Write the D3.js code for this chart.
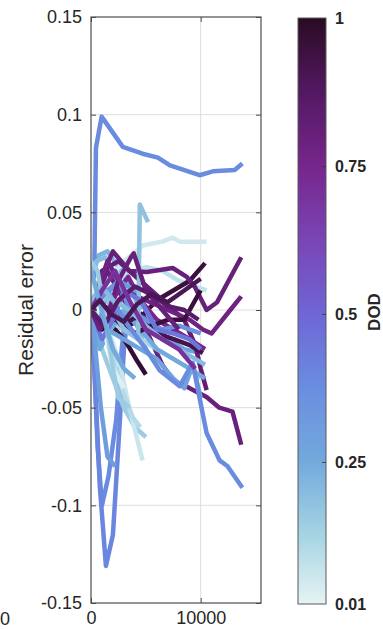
<!DOCTYPE html>
<html>
<head>
<meta charset="utf-8">
<script src="https://cdn.jsdelivr.net/npm/d3@7"></script>
<style>
  body { margin: 0; background: #fff; }
  svg { display: block; font-family: "Liberation Sans", Arial, sans-serif; }
</style>
</head>
<body>
<svg id="chart" width="383" height="629"></svg>
<script>
// Axis ticks
const yTicks = [-0.15, -0.1, -0.05, 0, 0.05, 0.1, 0.15];
const yTickLabels = ["-0.15", "-0.1", "-0.05", "0", "0.05", "0.1", "0.15"];
const xTicks = [0, 10000];
const xTickLabels = ["0", "10000"];
const cbTicks = [0.01, 0.25, 0.5, 0.75, 1];
const cbTickLabels = ["0.01", "0.25", "0.5", "0.75", "1"];

// Colormap for depth of discharge
const cmapPos = [0.01, 0.12, 0.25, 0.38, 0.5, 0.62, 0.75, 0.88, 1];
const cmapColors = ["#e6f3f3", "#a9d6e4", "#72aadc", "#6a8ce0", "#6f66d6", "#7a46b6", "#76268c", "#521860", "#2a0b22"];

// One entry per test cell: DOD, cycle positions, residual errors
const dod = [0.22, 0.05, 0.38, 0.2, 0.08, 0.8, 0.95, 0.38, 0.4, 0.15, 0.75, 0.3,
             0.97, 0.12, 0.8, 0.06, 0.28, 0.82, 0.1, 0.25, 0.92, 0.78, 0.02, 0.35,
             0.95, 0.18, 0.45, 0.3, 0.8, 0.15, 0.38, 0.2, 0.85, 0.7, 0.25, 0.9];
const cycles = [
  [0, 700, 1500, 2500, 3500, 4500],
  [0, 1500, 3000, 4730, 6500, 7450, 8100, 10540],
  [0, 300, 450, 970, 2900, 4700, 6100, 7200, 9900, 11100, 13100, 13800],
  [0, 500, 1300, 2000, 3000, 4000, 5000],
  [0, 1500, 3000, 5000, 6500, 8000, 9500, 10540],
  [0, 1500, 3000, 5000, 6500, 7450, 9000, 10540, 11700, 12900, 13700],
  [0, 1500, 3000, 4500, 6000, 7500, 9000, 10400],
  [0, 300, 600, 1000, 1600, 2300, 2800, 3300],
  [0, 400, 800, 1360, 2000, 2640, 3000, 3400],
  [0, 1000, 2000, 3000, 4000, 5000],
  [0, 700, 1500, 2500, 3400, 4500, 6000, 7500, 9000, 10400],
  [0, 1000, 2500, 4000, 5500, 7000, 8500, 10000],
  [0, 500, 1000, 1500, 2200, 3000, 3360, 4200, 5000],
  [0, 1500, 3000, 4500, 6000, 7500, 9000, 10000],
  [0, 800, 2000, 3500, 5090, 7450, 8730, 9450, 10540, 11500, 13700],
  [0, 1000, 2600, 3500, 4700],
  [0, 1500, 3000, 4500, 6000, 7500, 8500, 9300, 10000],
  [0, 1000, 2500, 4500, 6500, 8500, 9500, 10000, 10540],
  [0, 800, 1800, 2800, 3800, 4500],
  [0, 800, 1800, 3000, 4500, 6000, 7500, 9000, 10400],
  [0, 1200, 2800, 4600, 6000, 7600, 9000, 10200],
  [0, 1500, 3000, 5000, 7000, 9000, 10200, 11000, 12700, 13700],
  [0, 500, 1200, 2000, 3000],
  [0, 600, 1500, 2600, 3500, 5000, 6500, 8000, 10000],
  [0, 1000, 2500, 4000, 5500, 7000, 8500, 10000],
  [0, 1000, 2000, 3000, 4300, 4450, 5200],
  [0, 1000, 2000, 3000, 4500, 6000, 7500, 9000, 10000],
  [0, 400, 900, 1500, 2200],
  [0, 800, 1550, 2500, 3640, 3900, 5000, 6500, 8000],
  [0, 600, 1200, 2000, 2500, 3500],
  [0, 1500, 3000, 5000, 6270, 8090, 9270, 10180, 10540, 11730, 12450, 13800],
  [0, 1000, 2000, 3500, 5000, 6500, 8000, 9500, 10400],
  [0, 1200, 2500, 4000, 5500, 7000, 8500, 9800],
  [0, 1000, 2200, 3500, 5000, 6500, 8000, 9500],
  [0, 500, 1200, 2000, 3000, 4000],
  [0, 800, 1800, 3000, 4200, 5500, 7000, 8500, 10000]
];
const resid = [
  [0.015, 0.028, 0.03, 0.022, 0.012, 0],
  [0, 0.015, 0.025, 0.033, 0.035, 0.037, 0.035, 0.035],
  [0, 0.02, 0.083, 0.099, 0.0835, 0.080, 0.078, 0.074, 0.069, 0.071, 0.0717, 0.075],
  [0.02, 0.025, 0.027, 0.02, 0.01, -0.005, -0.02],
  [0, 0.01, 0.018, 0.022, 0.02, 0.015, 0.012, 0.01],
  [0, 0.02, 0.005, -0.01, -0.028, -0.036, -0.04, -0.0445, -0.05, -0.052, -0.069],
  [0, -0.005, -0.01, -0.004, 0.005, 0.01, 0.015, 0.024],
  [0.01, -0.03, -0.07, -0.10, -0.085, -0.056, -0.02, 0.005],
  [0.005, -0.04, -0.09, -0.131, -0.115, -0.056, -0.02, 0],
  [0, -0.02, -0.035, -0.05, -0.06, -0.065],
  [0, -0.01, 0, 0.01, 0.017, 0.005, -0.005, -0.01, -0.015, -0.02],
  [0, 0.005, 0.015, 0.01, -0.005, -0.015, -0.02, -0.022],
  [0, -0.005, 0, -0.008, -0.01, -0.015, -0.018, -0.026, -0.033],
  [0, -0.005, -0.01, -0.015, -0.02, -0.025, -0.03, -0.035],
  [0, 0.015, 0.03, 0.02, 0.0195, 0.0215, 0.017, 0.012, 0, 0.004, 0.027],
  [0.01, 0, -0.027, -0.05, -0.077],
  [0, -0.01, -0.015, -0.02, -0.025, -0.035, -0.04, -0.028, -0.045],
  [0, 0.02, 0.025, 0.015, 0.005, -0.005, -0.018, -0.03, -0.041],
  [0.02, 0.005, -0.02, -0.04, -0.055, -0.06],
  [0, -0.02, -0.01, 0, -0.01, -0.02, -0.025, -0.03, -0.035],
  [0, 0.002, -0.008, -0.002, -0.012, -0.015, -0.018, -0.022],
  [0, 0.025, 0.01, 0.005, 0, -0.005, -0.01, -0.012, 0, 0.007],
  [0.015, 0.005, -0.01, -0.03, -0.04],
  [0, -0.01, 0.01, 0.015, 0, -0.005, -0.01, -0.008, -0.012],
  [0, -0.01, -0.003, -0.012, -0.008, -0.005, -0.005, 0.01],
  [0, 0.01, 0, -0.01, -0.015, 0.054, 0.045],
  [0, -0.015, -0.005, 0.01, 0.005, -0.01, -0.012, -0.015, -0.02],
  [0.005, -0.02, -0.05, -0.075, -0.08],
  [0, -0.01, -0.002, 0.015, 0.027, 0.029, 0.01, 0, -0.01],
  [0.025, 0.02, 0, -0.03, -0.045, -0.05],
  [0, 0.01, -0.005, -0.02, -0.031, -0.039, -0.027, -0.053, -0.063, -0.077, -0.080, -0.091],
  [0.005, 0.012, 0.005, 0, -0.008, -0.015, -0.02, -0.025, -0.028],
  [0, -0.008, 0.005, 0.012, 0.008, 0.002, 0, -0.005],
  [0, 0.01, 0.02, 0.005, -0.01, -0.015, -0.02, -0.03],
  [0.02, 0.01, -0.005, -0.02, -0.03, -0.035],
  [0, 0.005, -0.002, -0.006, 0.003, 0.008, 0.004, 0.01, 0.016]
];

const svg = d3.select("#chart");
const plot = { left: 91, right: 261, top: 17, bottom: 603 };
const cb = { left: 298, right: 326, top: 18, bottom: 604 };

const x = d3.scaleLinear().domain([0, 15500]).range([plot.left, plot.right]);
const y = d3.scaleLinear().domain([-0.15, 0.15]).range([plot.bottom, plot.top]);
const color = d3.scaleLinear().domain(cmapPos).range(cmapColors).interpolate(d3.interpolateRgb);

const textColor = "#262626";
const axisColor = "#4d4d4d";

// Grid
const grid = svg.append("g");
grid.selectAll("line.hg").data(yTicks.slice(1, -1)).join("line")
  .attr("x1", plot.left).attr("x2", plot.right)
  .attr("y1", d => y(d)).attr("y2", d => y(d))
  .attr("stroke", "#dedede").attr("stroke-width", 1);
grid.selectAll("line.vg").data(xTicks.slice(1)).join("line")
  .attr("x1", d => x(d)).attr("x2", d => x(d))
  .attr("y1", plot.top).attr("y2", plot.bottom)
  .attr("stroke", "#dedede").attr("stroke-width", 1);

// Residual curves
svg.append("clipPath").attr("id", "plotClip").append("rect")
  .attr("x", plot.left).attr("y", plot.top)
  .attr("width", plot.right - plot.left).attr("height", plot.bottom - plot.top);

const line = d3.line().x(d => x(d[0])).y(d => y(d[1]));
const runs = dod.map((v, i) => ({ dod: v, pts: cycles[i].map((c, j) => [c, resid[i][j]]) }));
svg.append("g").attr("clip-path", "url(#plotClip)")
  .selectAll("path").data(runs).join("path")
  .attr("d", d => line(d.pts))
  .attr("fill", "none")
  .attr("stroke", d => color(d.dod))
  .attr("stroke-width", 4.5)
  .attr("stroke-linejoin", "round")
  .attr("stroke-linecap", "butt");

// Axes box with inward ticks
const yAxisL = d3.axisLeft(y).tickValues(yTicks).tickFormat((d, i) => yTickLabels[i]).tickSizeInner(-5).tickSizeOuter(0).tickPadding(9);
const yAxisR = d3.axisRight(y).tickValues(yTicks).tickFormat("").tickSizeInner(-5).tickSizeOuter(0);
const xAxisB = d3.axisBottom(x).tickValues(xTicks).tickFormat((d, i) => xTickLabels[i]).tickSizeInner(-5).tickSizeOuter(0).tickPadding(8);
const xAxisT = d3.axisTop(x).tickValues(xTicks).tickFormat("").tickSizeInner(-5).tickSizeOuter(0);

function styleAxis(g) {
  g.select(".domain").remove();
  g.selectAll(".tick line").attr("stroke", axisColor);
  g.selectAll(".tick text").attr("fill", textColor).attr("font-size", 18)
    .attr("font-family", "'Liberation Sans', Arial, sans-serif");
}
svg.append("g").attr("transform", `translate(${plot.left},0)`).call(yAxisL).call(styleAxis);
svg.append("g").attr("transform", `translate(${plot.right},0)`).call(yAxisR).call(styleAxis);
const gx = svg.append("g").attr("transform", `translate(0,${plot.bottom})`).call(xAxisB).call(styleAxis);
gx.selectAll(".tick text").attr("dy", "0.71em");
svg.append("g").attr("transform", `translate(0,${plot.top})`).call(xAxisT).call(styleAxis);

svg.append("rect")
  .attr("x", plot.left).attr("y", plot.top)
  .attr("width", plot.right - plot.left).attr("height", plot.bottom - plot.top)
  .attr("fill", "none").attr("stroke", axisColor).attr("stroke-width", 1.2);

// Y axis title
svg.append("text")
  .attr("transform", `translate(33,310) rotate(-90)`)
  .attr("text-anchor", "middle")
  .attr("fill", textColor)
  .attr("font-size", 21)
  .text("Residual error");

// Neighbouring panel tick label at the left edge
svg.append("text")
  .attr("x", 0).attr("y", 625)
  .attr("fill", textColor).attr("font-size", 18)
  .text("0");

// Colorbar
const cbScale = d3.scaleLinear().domain([0.01, 1]).range([cb.bottom, cb.top]);
const defs = svg.append("defs");
const grad = defs.append("linearGradient").attr("id", "dodGrad")
  .attr("x1", 0).attr("y1", 1).attr("x2", 0).attr("y2", 0);
grad.selectAll("stop").data(cmapPos).join("stop")
  .attr("offset", d => (d - 0.01) / 0.99)
  .attr("stop-color", (d, i) => cmapColors[i]);

svg.append("rect")
  .attr("x", cb.left).attr("y", cb.top)
  .attr("width", cb.right - cb.left).attr("height", cb.bottom - cb.top)
  .attr("fill", "url(#dodGrad)")
  .attr("stroke", "#5a5a5a").attr("stroke-width", 1);

const cbAxis = d3.axisRight(cbScale).tickValues(cbTicks)
  .tickFormat((d, i) => cbTickLabels[i]).tickSizeInner(-4).tickSizeOuter(0).tickPadding(9);
const gcb = svg.append("g").attr("transform", `translate(${cb.right},0)`).call(cbAxis);
gcb.select(".domain").remove();
gcb.selectAll(".tick line").attr("stroke", "#333").attr("opacity", (d) => (d === 0.01 || d === 1) ? 0 : 0.8);
gcb.selectAll(".tick text").attr("fill", textColor).attr("font-size", 16).attr("font-weight", "bold")
  .attr("font-family", "'Liberation Sans', Arial, sans-serif");

svg.append("text")
  .attr("transform", `translate(380,312) rotate(-90)`)
  .attr("text-anchor", "middle")
  .attr("fill", textColor)
  .attr("font-size", 17)
  .attr("font-weight", "bold")
  .text("DOD");
</script>
</body>
</html>
